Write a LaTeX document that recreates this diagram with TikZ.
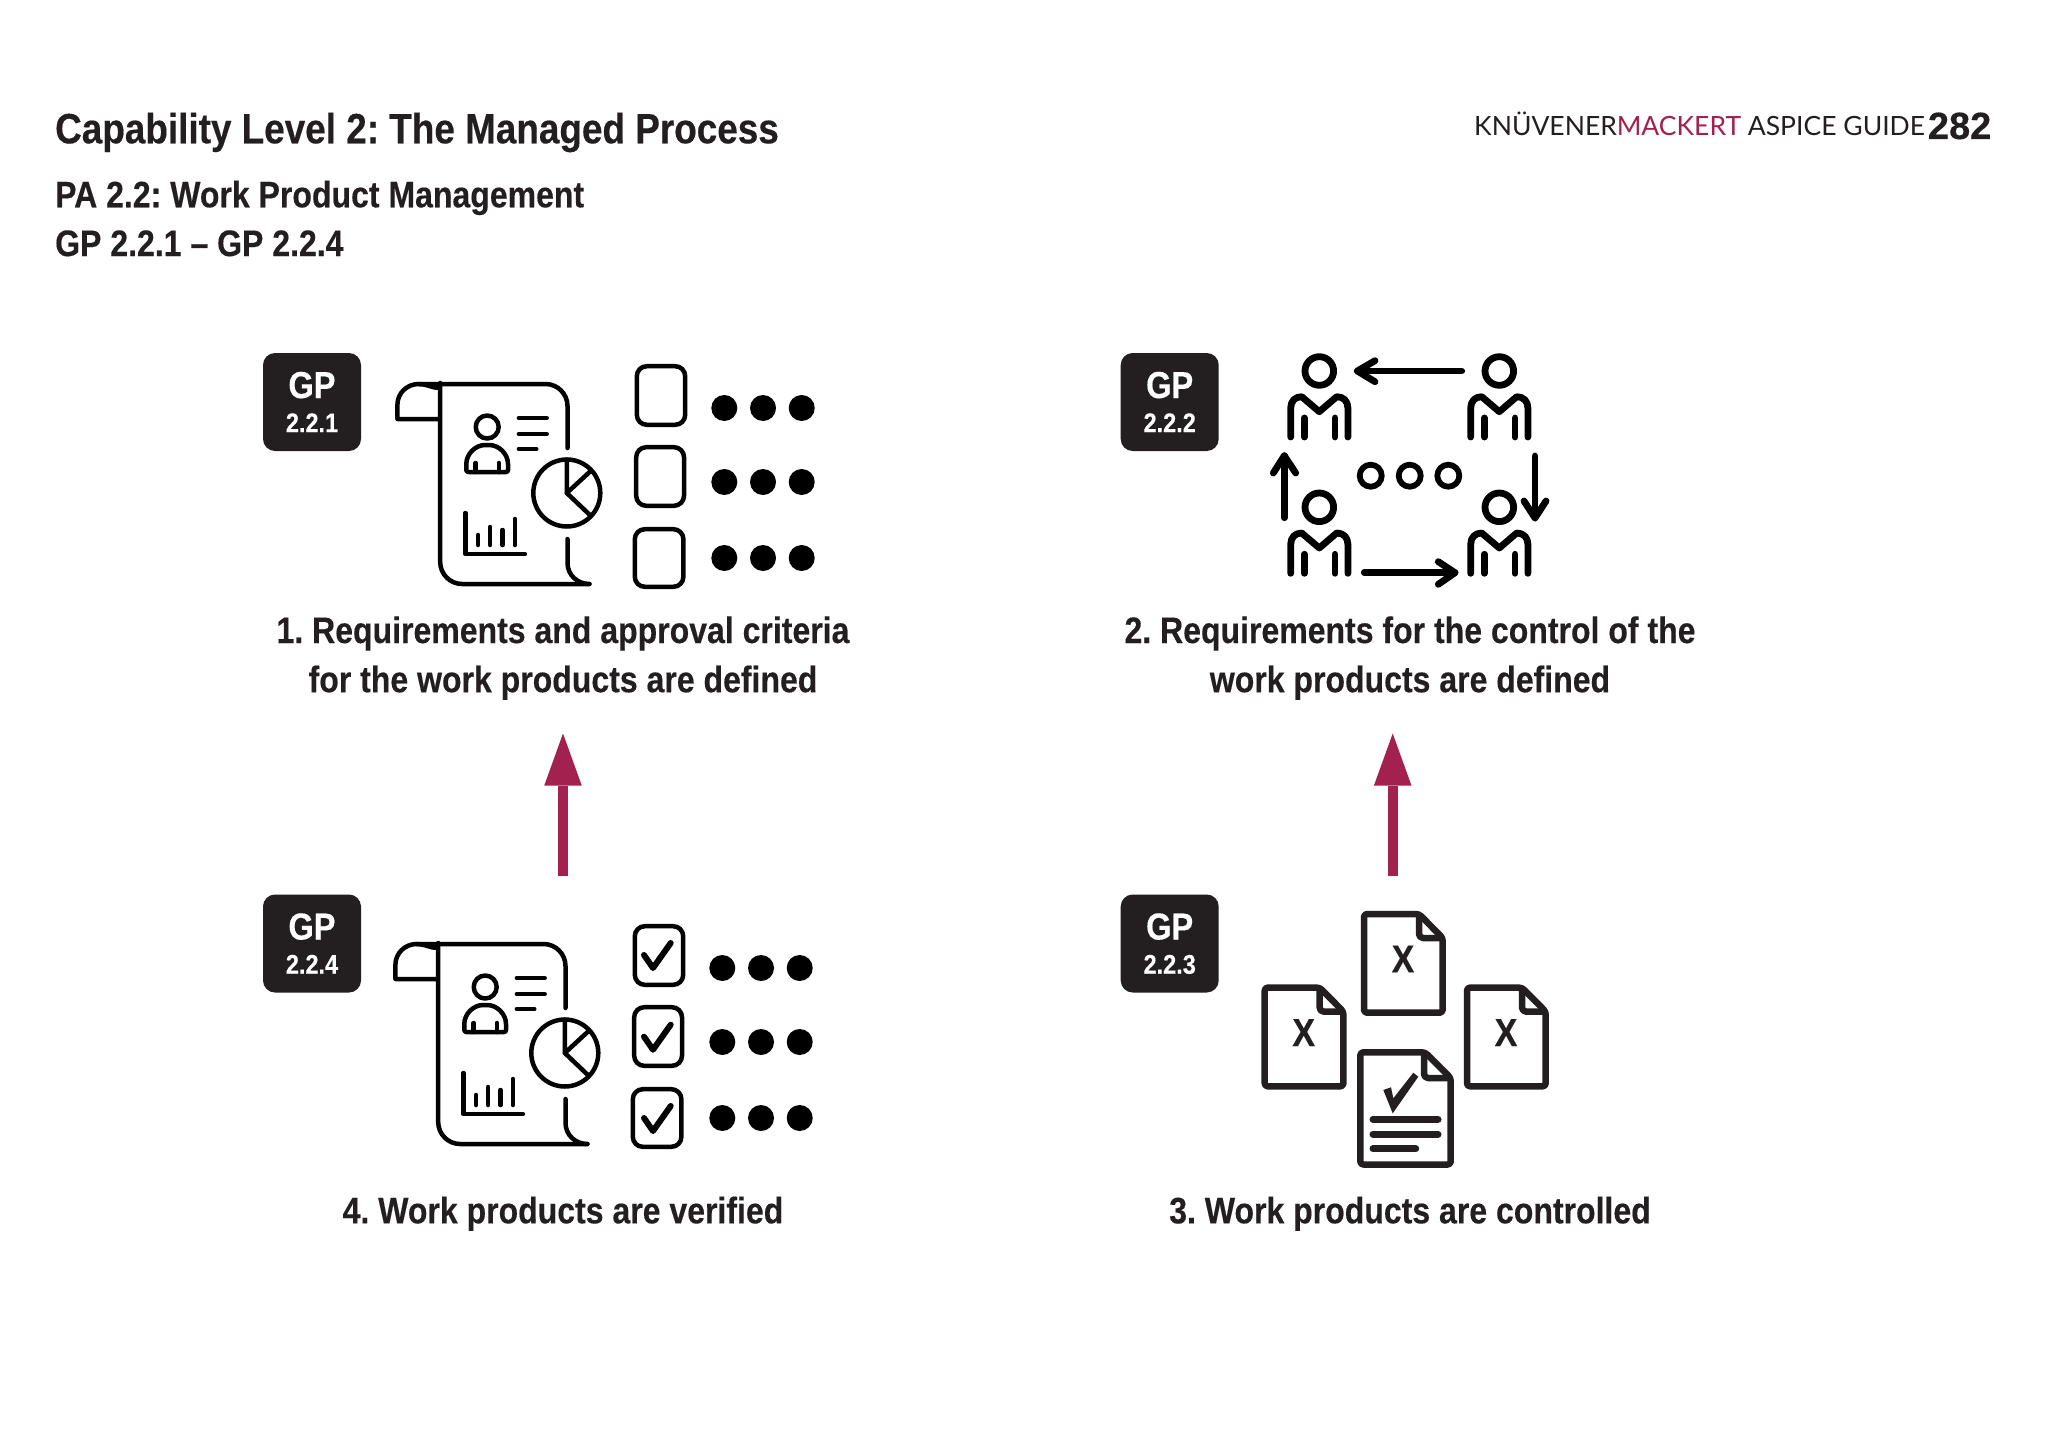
\documentclass[tikz,border=0pt]{standalone}
\usepackage{fontspec}
\usetikzlibrary{arrows.meta}
\newfontfamily\condfont[FakeStretch=0.87,BoldFeatures={FakeBold=0.3}]{Liberation Sans}
\newfontfamily\plainfont[BoldFeatures={FakeBold=0.3}]{Liberation Sans}
\newfontfamily\logofont{Lato}
\definecolor{inkdark}{HTML}{231F20}
\definecolor{wine}{HTML}{A3214F}
\frenchspacing
\tikzstyle{iconline}=[draw=black!90!inkdark,line width=4.5pt,line cap=round,line join=round]
\tikzstyle{peopleline}=[draw=black,line width=6.8pt,line cap=round,line join=round]
\tikzstyle{docline}=[draw=inkdark,line width=6.5pt,line join=round]
\tikzstyle{badge}=[fill=inkdark,rounded corners=12pt,minimum width=98pt,minimum height=98pt,inner sep=0pt]
\tikzstyle{heading}=[inner sep=0pt,text=inkdark,font=\condfont\bfseries]
\tikzstyle{caption}=[inner sep=0pt,text=inkdark,align=center,anchor=base,font=\condfont\bfseries\fontsize{36.8}{49.2}\selectfont]
\tikzstyle{flowarrow}=[draw=wine,line width=10pt,-{Triangle[length=52pt,width=37.5pt,line width=0pt,fill=wine]}]
\tikzset{
  scrollicon/.pic={
    \draw[iconline,rounded corners=22pt] (589.4,584) -- (440.2,584) -- (440.2,405) [sharp corners] .. controls (440.2,393) and (430,384) .. (418.8,384) .. controls (407,384) and (397.4,393) .. (397.4,405) -- (397.4,419) -- (440.2,419);
    \draw[iconline,rounded corners=22pt] (418.8,384) -- (567.5,384) -- (567.5,448);
    \draw[iconline] (567.5,539) -- (567.5,563) .. controls (567.5,575) and (577.5,584) .. (589.4,584);
    \draw[iconline] (487.2,427) circle (11.5pt);
    \draw[iconline,rounded corners=2pt] (466.3,472) -- (466.3,466) .. controls (466.3,454) and (475.3,445) .. (487.2,445) .. controls (499,445) and (508,454) .. (508,466) -- (508,472) -- cycle;
    \foreach \x in {475.7,498.8}
      \draw[iconline] (\x,463) -- (\x,472);
    \foreach \xa/\xb/\y in {518.9/546.7/418, 518.9/546.7/434, 518.9/536.3/449}
      \draw[iconline] (\xa,\y) -- (\xb,\y);
    \draw[iconline] (566.8,493) circle (33.5pt);
    \draw[iconline] (566.8,459.5) -- (566.8,493) -- (589.9,515);
    \draw[iconline] (566.8,493) -- (589.9,471.7);
    \draw[iconline] (465.3,513) -- (465.3,554) -- (524.9,554);
    \foreach \x/\y in {478.2/535, 490.1/527, 502.5/530, 514.9/519}
      \draw[iconline] (\x,\y) -- (\x,545);
    \foreach \xa/\xb/\ya/\yb in {636.8/685.2/366.2/424.8, 636.2/684/447.2/505.8, 634.8/683.4/529.2/586.8}
      \draw[iconline,rounded corners=10pt] (\xa,\ya) rectangle (\xb,\yb);
    \foreach \y in {408,482,558}
      \foreach \x in {724.3,763,801.7}
        \fill[black] (\x,\y) circle (13pt);
  },
  personicon/.pic={
    \draw[peopleline] (0,0) circle (14.3pt);
    \draw[peopleline] (-28.6,66) -- (-28.6,37) .. controls (-28.6,30) and (-24,25.7) .. (-17.6,25.7) -- (0,40.7) -- (17.4,25.7) .. controls (24,25.7) and (28.6,30) .. (28.6,37) -- (28.6,66);
    \foreach \x in {-15,15.7}
      \draw[peopleline] (\x,47) -- (\x,66);
  },
  paperdoc/.pic={
    \draw[docline,rounded corners=3pt] (1419,914) -- (1364,914) -- (1364,1012.7) -- (1442.7,1012.7) -- (1442.7,938) -- cycle;
    \draw[docline,rounded corners=4pt] (1419,914) -- (1419,938) -- (1442.7,938);
  },
}
\begin{document}
\begin{tikzpicture}[x=1pt,y=-1pt]
    \useasboundingbox[fill=white] (0,0) rectangle (2048,1453);

    \node[heading,anchor=base west,font=\condfont\bfseries\fontsize{42.4}{50}\selectfont] (title) at (55,143.3) {Capability Level 2: The Managed Process};
    \node[heading,anchor=base west,font=\condfont\bfseries\fontsize{36.8}{49}\selectfont] (subone) at (55,207.3) {PA 2.2: Work Product Management};
    \node[heading,anchor=base west,font=\condfont\bfseries\fontsize{36.8}{49}\selectfont] (subtwo) at (55,256) {GP 2.2.1 – GP 2.2.4};
    \node[inner sep=0pt,anchor=base west,text=inkdark,font=\logofont\fontsize{26.5}{30}\selectfont] (logo) at (1474,135.5) {KNÜVENER\textcolor{wine}{MACKERT} ASPICE GUIDE};
    \node[heading,anchor=base east,font=\plainfont\bfseries\fontsize{38}{50}\selectfont] (pageno) at (1991.5,139) {282};

    \foreach \x/\y/\name/\num in {312/402/gpa/2.2.1, 1169.7/402/gpb/2.2.2, 1169.7/943.5/gpc/2.2.3, 312/943.5/gpd/2.2.4}
    {
        \node[badge] (\name) at (\x,\y) {};
        \node[inner sep=0pt,anchor=base,text=white,font=\condfont\bfseries\fontsize{37.5}{40}\selectfont] (\name top) at (\x,\y-4) {GP};
        \node[inner sep=0pt,anchor=base,text=white,font=\condfont\bfseries\fontsize{27}{30}\selectfont] (\name num) at (\x,\y+30.2) {\num};
    }

    \pic (scrolla) at (0,0) {scrollicon};
    \pic (scrollb) at (-2,560) {scrollicon};

    % ticks for the lower list
    \foreach \y in {0,81.7,163}
        \draw[draw=black!90!inkdark,line width=6pt,line cap=round,line join=round] (644,955+\y) -- (653,968+\y) -- (670.7,943+\y);

    \foreach \x/\y/\name in {1319.3/371/tl, 1499.3/371/tr, 1319.3/507.3/bl, 1499.3/507.3/br}
        \pic (\name) at (\x,\y) {personicon};

    \draw[peopleline] (1461.7,371) -- (1357.3,371);
    \draw[peopleline] (1375,360.7) -- (1357.3,371) -- (1375,381.7);
    \draw[peopleline] (1284.3,517.7) -- (1284.3,455.7);
    \draw[peopleline] (1273.3,473) -- (1284.3,455.7) -- (1295.7,473);
    \draw[peopleline] (1535,456) -- (1535,518);
    \draw[peopleline] (1524,501) -- (1535,518) -- (1546,501);
    \draw[peopleline] (1364.3,572.7) -- (1455,572.7);
    \draw[peopleline] (1438.3,561.7) -- (1455,572.7) -- (1438.3,584.3);
    \foreach \x in {1370.7,1409.7,1448.3}
        \draw[peopleline,line width=5.8pt] (\x,475.7) circle (11pt);

    \pic (doctop) at (0,0) {paperdoc};
    \pic (docleft) at (-99.3,73.6) {paperdoc};
    \pic (docright) at (103,73.6) {paperdoc};
    \foreach \x/\y/\name in {1403/959/top, 1303.7/1032.6/left, 1506/1032.6/right}
        \node[inner sep=0pt,text=inkdark,font=\condfont\bfseries\fontsize{39}{40}\selectfont] (x\name) at (\x,\y) {X};

    \draw[docline,rounded corners=3pt] (1425,1052.3) -- (1360.3,1052.3) -- (1360.3,1164.5) -- (1450.7,1164.5) -- (1450.7,1078) -- cycle;
    \draw[docline,rounded corners=4pt] (1424,1052.3) -- (1424,1078) -- (1450.7,1078);
    \fill[inkdark] (1383.3,1090) -- (1391,1087.3) -- (1393.3,1098.3) -- (1413.3,1072.7) -- (1418.3,1076.7) -- (1392.7,1113.3) -- cycle;
    \foreach \xb/\y in {1438/1119.3, 1438/1134, 1415.7/1148.7}
        \draw[draw=inkdark,line width=7pt,line cap=round] (1373,\y) -- (\xb,\y);

    \node[caption] (capa) at (563,692.2) {1. Requirements and approval criteria\\for the work products are defined};
    \node[caption] (capb) at (1410,692.2) {2. Requirements for the control of the\\work products are defined};
    \node[caption] (capc) at (1410,1223.3) {3. Work products are controlled};
    \node[caption] (capd) at (563,1223.3) {4. Work products are verified};

    \coordinate (upa) at (563,875.7);
    \coordinate (upb) at (563,733.5);
    \coordinate (upc) at (1392.7,875.7);
    \coordinate (upd) at (1392.7,733.5);
    \draw[flowarrow] (upa) -- (upb);
    \draw[flowarrow] (upc) -- (upd);
\end{tikzpicture}
\end{document}
